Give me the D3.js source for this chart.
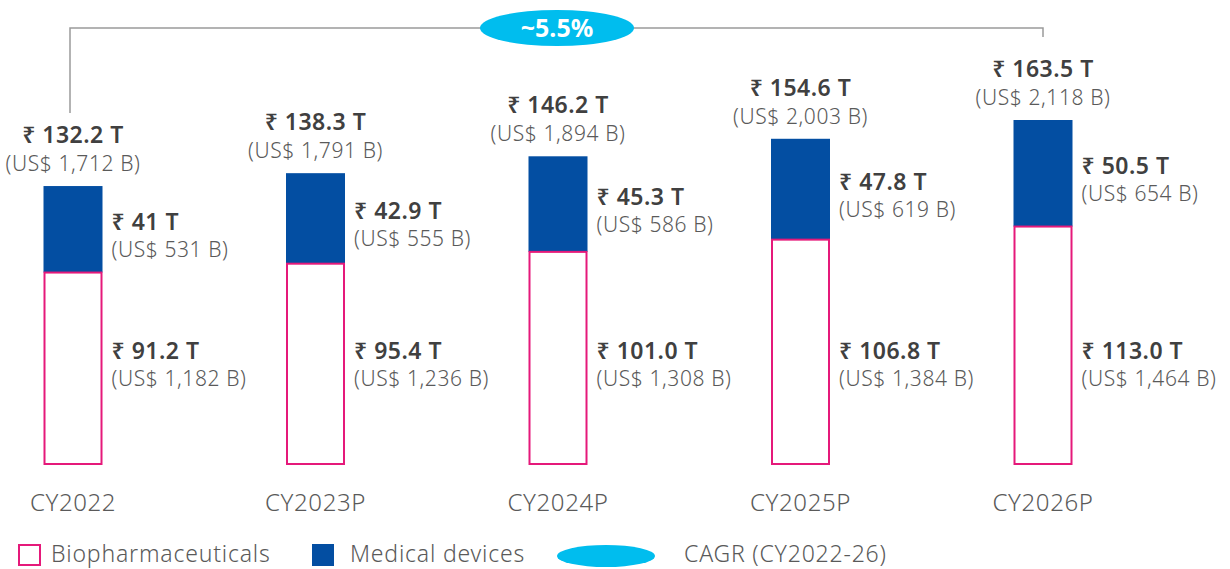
<!DOCTYPE html>
<html>
<head>
<meta charset="utf-8">
<script src="https://cdn.jsdelivr.net/npm/d3@7"></script>
<style>
  body { margin: 0; background: #fff; }
  text { font-family: "Noto Sans", "Open Sans", sans-serif; }
</style>
</head>
<body>
<div id="chart"></div>
<script>
// market size, ₹ trillion, with US$ billion in brackets
var years = ["CY2022", "CY2023P", "CY2024P", "CY2025P", "CY2026P"];
var bio = [91.2, 95.4, 101.0, 106.8, 113.0];
var bioLabel = ["91.2", "95.4", "101.0", "106.8", "113.0"];
var bioUsd = ["1,182", "1,236", "1,308", "1,384", "1,464"];
var med = [41, 42.9, 45.3, 47.8, 50.5];
var medLabel = ["41", "42.9", "45.3", "47.8", "50.5"];
var medUsd = ["531", "555", "586", "619", "654"];
var totalLabel = ["132.2", "138.3", "146.2", "154.6", "163.5"];
var totalUsd = ["1,712", "1,791", "1,894", "2,003", "2,118"];
var cagr = "~5.5%";
var legendNames = ["Biopharmaceuticals", "Medical devices", "CAGR (CY2022-26)"];

var W = 1230, H = 569;
var blue = "#034ea2", pink = "#e5197a", cyan = "#00bdee";
var dark = "#404040", grey = "#5a5a5a";

var svg = d3.select("#chart").append("svg")
    .attr("width", W)
    .attr("height", H);

var x = d3.scalePoint().domain(years).range([73, 1043]);
var y = d3.scaleLinear().domain([0, 163.5]).range([465, 120]);
var bw = 59;

var rows = years.map(function (d, i) {
  return { year: d, bio: bio[i], med: med[i], bl: bioLabel[i], bu: bioUsd[i],
           ml: medLabel[i], mu: medUsd[i], tl: totalLabel[i], tu: totalUsd[i] };
});

// text styles
function big(sel) {
  return sel.attr("font-size", "23px").attr("font-weight", 600)
    .attr("letter-spacing", "0.5px").attr("fill", dark);
}
function small(sel) {
  return sel.attr("font-size", "21px").attr("font-weight", 300)
    .attr("letter-spacing", "0.6px").attr("fill", grey);
}

var g = svg.selectAll("g.col").data(rows).enter().append("g").attr("class", "col");

// medical devices on top
g.append("rect")
  .attr("x", function (d) { return x(d.year) - bw / 2; })
  .attr("y", function (d) { return y(d.bio + d.med); })
  .attr("width", bw)
  .attr("height", function (d) { return y(d.bio) - y(d.bio + d.med); })
  .attr("fill", blue);

// biopharma outline
g.append("rect")
  .attr("x", function (d) { return x(d.year) - bw / 2 + 1; })
  .attr("y", function (d) { return y(d.bio); })
  .attr("width", bw - 2)
  .attr("height", function (d) { return y(0) - y(d.bio) - 1; })
  .attr("fill", "#fff")
  .attr("stroke", pink)
  .attr("stroke-width", 2);

// totals
big(g.append("text")
  .attr("x", function (d) { return x(d.year); })
  .attr("y", function (d) { return y(d.bio + d.med) - 43; })
  .attr("text-anchor", "middle"))
  .text(function (d) { return "₹ " + d.tl + " T"; });
small(g.append("text")
  .attr("x", function (d) { return x(d.year); })
  .attr("y", function (d) { return y(d.bio + d.med) - 15; })
  .attr("text-anchor", "middle"))
  .text(function (d) { return "(US$ " + d.tu + " B)"; });

// medical labels
big(g.append("text")
  .attr("x", function (d) { return x(d.year) + bw / 2 + 9; })
  .attr("y", function (d) { return (y(d.bio) + y(d.bio + d.med)) / 2 + 1; }))
  .text(function (d) { return "₹ " + d.ml + " T"; });
small(g.append("text")
  .attr("x", function (d) { return x(d.year) + bw / 2 + 9; })
  .attr("y", function (d) { return (y(d.bio) + y(d.bio + d.med)) / 2 + 28; }))
  .text(function (d) { return "(US$ " + d.mu + " B)"; });

// biopharma labels
big(g.append("text")
  .attr("x", function (d) { return x(d.year) + bw / 2 + 9; })
  .attr("y", y(50.2)))
  .text(function (d) { return "₹ " + d.bl + " T"; });
small(g.append("text")
  .attr("x", function (d) { return x(d.year) + bw / 2 + 9; })
  .attr("y", y(50.2) + 27))
  .text(function (d) { return "(US$ " + d.bu + " B)"; });

// category labels
g.append("text")
  .attr("x", function (d) { return x(d.year); })
  .attr("y", 511)
  .attr("text-anchor", "middle")
  .attr("font-size", "24px").attr("font-weight", 300)
  .attr("letter-spacing", "0.6px").attr("fill", grey)
  .text(function (d) { return d.year; });

// CAGR bracket
var x0 = x(years[0]), x1 = x(years[years.length - 1]);
svg.append("path")
  .attr("d", "M" + (x0 - 3) + "," + (y(bio[0] + med[0]) - 73) + "V28H" + x1 + "V" + 37)
  .attr("fill", "none")
  .attr("stroke", "#9a9a9a")
  .attr("stroke-width", 1.5);
svg.append("ellipse")
  .attr("cx", 557).attr("cy", 28).attr("rx", 77).attr("ry", 18)
  .attr("fill", cyan);
svg.append("text")
  .attr("x", 557).attr("y", 37)
  .attr("text-anchor", "middle")
  .attr("font-size", "25px").attr("font-weight", 700).attr("fill", "#fff")
  .text(cagr);

// legend
var ly = 555;
svg.append("rect").attr("x", 19).attr("y", ly - 10).attr("width", 21).attr("height", 20)
  .attr("fill", "#fff").attr("stroke", pink).attr("stroke-width", 2);
svg.append("rect").attr("x", 312).attr("y", ly - 11).attr("width", 22).attr("height", 22)
  .attr("fill", blue);
svg.append("ellipse").attr("cx", 606).attr("cy", ly + 1).attr("rx", 49).attr("ry", 11)
  .attr("fill", cyan);
var lx = [51, 350, 684];
svg.selectAll("text.leg").data(legendNames).enter().append("text")
  .attr("class", "leg")
  .attr("x", function (d, i) { return lx[i]; })
  .attr("y", ly + 7)
  .attr("font-size", "23px").attr("font-weight", 300)
  .attr("letter-spacing", "0.8px").attr("fill", grey)
  .text(function (d) { return d; });
</script>
</body>
</html>
